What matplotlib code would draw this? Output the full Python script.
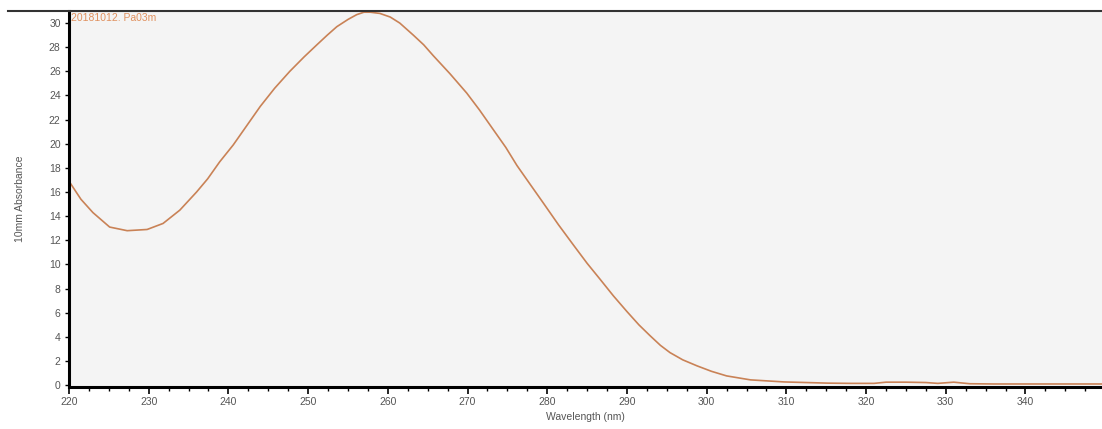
import matplotlib
matplotlib.use("Agg")
import matplotlib.pyplot as plt
from matplotlib.lines import Line2D
from matplotlib.ticker import MultipleLocator
import numpy as np

# spectrum
wavelength = [220.0, 221.5, 223.0, 225.1, 227.3, 229.8, 231.8, 233.9, 236.0, 237.4,
              238.9, 240.6, 242.3, 244.0, 245.8, 247.7, 249.5, 251.1, 252.4, 253.6,
              255.0, 256.1, 257.0, 257.8, 259.0, 260.3, 261.5, 263.2, 264.5, 265.7,
              267.8, 269.9, 271.5, 273.2, 274.8, 276.2, 277.9, 279.5, 281.4, 283.3,
              285.0, 286.6, 288.3, 290.0, 291.5, 292.9, 294.2, 295.4, 297.0, 298.8,
              300.6, 302.5, 305.5, 309.7, 315.2, 318.0, 321.0, 322.5, 325.0, 327.5,
              329.0, 331.0, 333.0, 336.0, 340.0, 345.0, 349.6]
absorbance = [16.9, 15.4, 14.3, 13.1, 12.8, 12.9, 13.4, 14.5, 16.0, 17.1,
              18.5, 19.9, 21.5, 23.1, 24.6, 26.0, 27.2, 28.2, 29.0, 29.7,
              30.3, 30.7, 30.9, 30.9, 30.8, 30.5, 30.0, 29.0, 28.2, 27.3,
              25.8, 24.2, 22.8, 21.2, 19.7, 18.2, 16.6, 15.1, 13.3, 11.6,
              10.1, 8.8, 7.4, 6.1, 5.0, 4.1, 3.3, 2.7, 2.1, 1.6,
              1.15, 0.77, 0.44, 0.27, 0.17, 0.15, 0.15, 0.25, 0.25, 0.22,
              0.15, 0.25, 0.12, 0.1, 0.1, 0.1, 0.1]
sample_name = "20181012. Pa03m"

plt.rcParams['font.family'] = ['Liberation Sans', 'DejaVu Sans']

fig = plt.figure(figsize=(11.02, 4.29), dpi=100)
ax = fig.add_axes([69 / 1102, 42 / 429, 1 - 69 / 1102, 376 / 429])
ax.set_facecolor('#f4f4f4')

ax.plot(wavelength, absorbance, color='#c98256', lw=1.2)

ax.set_xlim(220, 349.6)
ax.set_ylim(-0.15, 31.0)
ax.xaxis.set_major_locator(MultipleLocator(10))
ax.xaxis.set_minor_locator(MultipleLocator(2.5))
ax.yaxis.set_major_locator(MultipleLocator(2))

ax.tick_params(axis='both', labelsize=7.5, colors='#333333', labelcolor='#555555')
ax.tick_params(axis='x', which='major', length=5, width=1.2, color='black', pad=2)
ax.tick_params(axis='x', which='minor', length=3, width=1.0, color='black')
ax.tick_params(axis='y', which='major', length=3, width=1.0, color='black', pad=3)

for s in ['top', 'right']:
    ax.spines[s].set_visible(False)
ax.spines['left'].set_linewidth(2.2)
ax.spines['bottom'].set_linewidth(2.2)

ax.set_xlabel('Wavelength (nm)', fontsize=7.5, color='#555555', labelpad=4)
ax.set_ylabel('10mm Absorbance', fontsize=7.5, color='#555555', labelpad=17)

ax.text(0.002, 0.995, sample_name, transform=ax.transAxes, ha='left', va='top',
        fontsize=7.5, color='#e0915f')

# dark line across the top of the plot
fig.add_artist(Line2D([8 / 1102, 1.0], [1 - 11 / 429, 1 - 11 / 429],
                      transform=fig.transFigure, color='#333333', lw=1.5))

fig.savefig('out.png', dpi=100)
